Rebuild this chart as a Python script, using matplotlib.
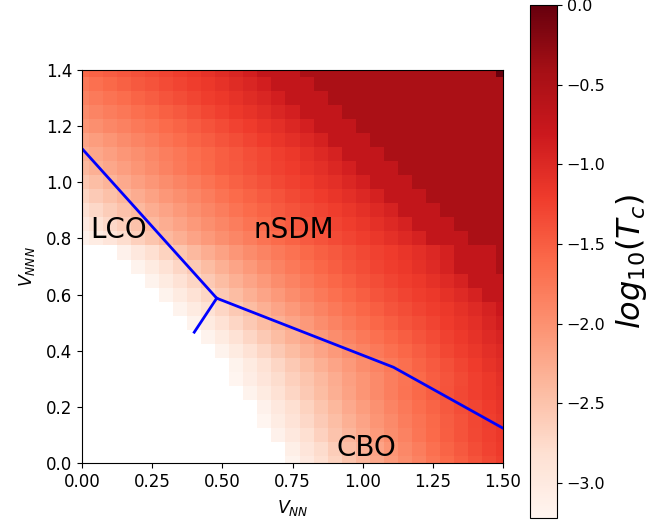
import numpy as np
import matplotlib
matplotlib.use('Agg')
import matplotlib.pyplot as plt

# grid of the phase diagram
vnn = np.linspace(0.0, 1.5, 31)
vnnn = np.linspace(0.0, 1.4, 29)

# log10(Tc) per row (VNNN = 0.00, 0.05, ...); only the coloured cells,
# cells to the left of each row are Tc = 0 (blank)
r00 = [-3.18, -3.00, -2.83, -2.67, -2.52, -2.37, -2.23, -2.10, -1.97, -1.85, -1.73, -1.62, -1.52, -1.42, -1.33, -1.24]
r01 = [-3.10, -2.93, -2.77, -2.61, -2.46, -2.32, -2.18, -2.05, -1.92, -1.80, -1.68, -1.57, -1.47, -1.37, -1.28, -1.20]
r02 = [-3.15, -2.98, -2.82, -2.66, -2.51, -2.37, -2.23, -2.10, -1.97, -1.85, -1.73, -1.62, -1.52, -1.42, -1.33, -1.25, -1.18]
r03 = [-3.21, -3.05, -2.89, -2.74, -2.59, -2.45, -2.31, -2.18, -2.05, -1.93, -1.81, -1.70, -1.60, -1.50, -1.41, -1.32, -1.24, -1.16]
r04 = [-3.15, -2.98, -2.82, -2.67, -2.52, -2.38, -2.25, -2.12, -2.00, -1.88, -1.77, -1.66, -1.56, -1.47, -1.38, -1.30, -1.22, -1.14]
r05 = [-3.18, -3.02, -2.86, -2.71, -2.57, -2.43, -2.30, -2.17, -2.05, -1.93, -1.82, -1.71, -1.61, -1.51, -1.42, -1.33, -1.25, -1.17, -1.11]
r06 = [-3.21, -3.07, -2.93, -2.79, -2.65, -2.52, -2.39, -2.27, -2.15, -2.04, -1.93, -1.82, -1.72, -1.62, -1.52, -1.43, -1.34, -1.25, -1.17, -1.09]
r07 = [-3.18, -3.02, -2.86, -2.71, -2.57, -2.44, -2.31, -2.19, -2.08, -1.97, -1.87, -1.77, -1.67, -1.57, -1.48, -1.39, -1.30, -1.21, -1.13, -1.05]
r08 = [-3.18, -3.02, -2.86, -2.71, -2.57, -2.44, -2.31, -2.19, -2.08, -1.97, -1.87, -1.77, -1.68, -1.59, -1.50, -1.41, -1.32, -1.24, -1.16, -1.08, -1.01]
r09 = [-3.18, -3.02, -2.86, -2.71, -2.57, -2.44, -2.31, -2.19, -2.08, -1.97, -1.87, -1.77, -1.68, -1.59, -1.51, -1.43, -1.35, -1.27, -1.19, -1.11, -1.03, -0.95]
r10 = [-3.18, -3.02, -2.86, -2.71, -2.57, -2.44, -2.31, -2.19, -2.08, -1.97, -1.87, -1.77, -1.68, -1.59, -1.51, -1.43, -1.36, -1.29, -1.22, -1.15, -1.07, -0.98, -0.88]
r11 = [-3.18, -3.02, -2.86, -2.71, -2.57, -2.44, -2.31, -2.19, -2.08, -1.97, -1.87, -1.77, -1.68, -1.59, -1.51, -1.43, -1.36, -1.29, -1.23, -1.17, -1.10, -1.02, -0.93, -0.80]
r12 = [-3.18, -3.02, -2.86, -2.71, -2.57, -2.44, -2.31, -2.19, -2.08, -1.97, -1.87, -1.77, -1.68, -1.59, -1.51, -1.43, -1.36, -1.29, -1.23, -1.17, -1.10, -1.02, -0.93, -0.72, -0.72]
r13 = [-3.18, -3.02, -2.86, -2.71, -2.57, -2.44, -2.31, -2.19, -2.08, -1.97, -1.87, -1.77, -1.68, -1.59, -1.51, -1.43, -1.36, -1.29, -1.23, -1.17, -1.10, -1.02, -0.93, -0.72, -0.72, -0.72]
r14 = [-3.18, -3.02, -2.86, -2.71, -2.57, -2.44, -2.31, -2.19, -2.08, -1.97, -1.87, -1.77, -1.68, -1.59, -1.51, -1.43, -1.36, -1.29, -1.23, -1.17, -1.10, -1.02, -0.93, -0.72, -0.72, -0.72, -0.47]
r15 = [-3.15, -2.98, -2.82, -2.67, -2.53, -2.40, -2.28, -2.17, -2.06, -1.96, -1.87, -1.78, -1.69, -1.61, -1.53, -1.46, -1.39, -1.33, -1.27, -1.21, -1.15, -1.08, -1.00, -0.91, -0.72, -0.72, -0.72, -0.47]
r16 = [-3.15, -3.05, -2.93, -2.78, -2.65, -2.52, -2.40, -2.29, -2.18, -2.08, -1.98, -1.89, -1.80, -1.71, -1.63, -1.55, -1.48, -1.41, -1.35, -1.29, -1.23, -1.16, -1.09, -1.01, -0.92] + [-0.72] * 3 + [-0.47] * 3
r17 = [-3.00, -2.87, -2.74, -2.62, -2.50, -2.39, -2.28, -2.18, -2.08, -1.98, -1.89, -1.80, -1.71, -1.63, -1.55, -1.48, -1.41, -1.35, -1.29, -1.23, -1.16, -1.09, -1.01, -0.92] + [-0.72] * 3 + [-0.47] * 4
r18 = [-2.85, -2.73, -2.61, -2.50, -2.39, -2.28, -2.18, -2.08, -1.98, -1.89, -1.80, -1.71, -1.63, -1.55, -1.48, -1.41, -1.35, -1.29, -1.23, -1.16, -1.09, -1.01, -0.92] + [-0.72] * 3 + [-0.47] * 5
r19 = [-2.70, -2.59, -2.48, -2.37, -2.27, -2.17, -2.07, -1.98, -1.89, -1.80, -1.71, -1.63, -1.55, -1.48, -1.41, -1.34, -1.28, -1.22, -1.15, -1.08, -1.00, -0.91] + [-0.72] * 3 + [-0.47] * 6
r20 = [-2.55, -2.45, -2.35, -2.25, -2.15, -2.06, -1.97, -1.88, -1.79, -1.70, -1.62, -1.54, -1.47, -1.40, -1.33, -1.27, -1.21, -1.14, -1.07, -0.99, -0.90] + [-0.72] * 3 + [-0.47] * 7
r21 = [-2.40, -2.31, -2.22, -2.13, -2.04, -1.95, -1.86, -1.77, -1.68, -1.60, -1.52, -1.46, -1.40, -1.33, -1.27, -1.21, -1.14, -1.07, -0.99, -0.90] + [-0.72] * 3 + [-0.47] * 8
r22 = [-2.30, -2.22, -2.14, -2.06, -1.98, -1.90, -1.82, -1.74, -1.66, -1.59, -1.52, -1.45, -1.38, -1.31, -1.24, -1.17, -1.09, -1.01, -0.92] + [-0.72] * 3 + [-0.47] * 9
r23 = [-2.20, -2.12, -2.04, -1.96, -1.88, -1.80, -1.72, -1.64, -1.57, -1.50, -1.43, -1.36, -1.29, -1.22, -1.15, -1.08, -1.00, -0.91] + [-0.72] * 3 + [-0.47] * 10
r24 = [-2.05, -1.98, -1.91, -1.84, -1.77, -1.70, -1.63, -1.56, -1.49, -1.42, -1.35, -1.28, -1.21, -1.14, -1.07, -0.99, -0.90] + [-0.72] * 3 + [-0.47] * 11
r25 = [-1.95, -1.88, -1.81, -1.74, -1.67, -1.60, -1.53, -1.46, -1.39, -1.32, -1.25, -1.18, -1.12, -1.05, -0.98, -0.90] + [-0.72] * 3 + [-0.47] * 12
r26 = [-1.85, -1.78, -1.71, -1.64, -1.57, -1.50, -1.43, -1.36, -1.30, -1.23, -1.17, -1.11, -1.04, -0.97, -0.89] + [-0.72] * 3 + [-0.47] * 13
r27 = [-1.75, -1.68, -1.61, -1.54, -1.47, -1.41, -1.35, -1.29, -1.23, -1.17, -1.11, -1.04, -0.97, -0.89] + [-0.72] * 3 + [-0.47] * 14
r28 = [-1.60, -1.55, -1.50, -1.45, -1.40, -1.35, -1.29, -1.23, -1.17, -1.11, -1.04, -0.97, -0.89] + [-0.72] * 3 + [-0.47] * 14 + [-0.02]

rows = [r00, r01, r02, r03, r04, r05, r06, r07, r08, r09, r10, r11, r12, r13, r14,
        r15, r16, r17, r18, r19, r20, r21, r22, r23, r24, r25, r26, r27, r28]

# phase boundaries
b1_x = [0.0, 0.48]
b1_y = [1.12, 0.587]
b2_x = [0.48, 0.40]
b2_y = [0.587, 0.466]
b3_x = [0.48, 1.11, 1.5]
b3_y = [0.587, 0.341, 0.124]

# pad each row with blanks on the left
grid = np.array([[np.nan] * (len(vnn) - len(r)) + list(r) for r in rows])

fig = plt.figure(figsize=(6.49, 5.31), dpi=100)
ax = fig.add_axes([82 / 649, 68 / 531, 421 / 649, 393 / 531])
cax = fig.add_axes([530 / 649, 13 / 531, 27 / 649, 513 / 531])

dx = vnn[1] - vnn[0]
dy = vnnn[1] - vnnn[0]
im = ax.imshow(grid, origin='lower', cmap='Reds', vmin=-3.22, vmax=0.0,
               extent=[vnn[0] - dx / 2, vnn[-1] + dx / 2, vnnn[0] - dy / 2, vnnn[-1] + dy / 2],
               interpolation='nearest', aspect='auto')
ax.set_xlim(0, 1.5)
ax.set_ylim(0, 1.4)

ax.plot(b1_x, b1_y, color='blue', lw=2)
ax.plot(b2_x, b2_y, color='blue', lw=2)
ax.plot(b3_x, b3_y, color='blue', lw=2)

ax.text(0.028, 0.80, 'LCO', fontsize=20)
ax.text(0.61, 0.80, 'nSDM', fontsize=20)
ax.text(0.905, 0.025, 'CBO', fontsize=20)

ax.set_xticks([0, 0.25, 0.5, 0.75, 1.0, 1.25, 1.5])
ax.set_xlabel('$V_{NN}$', fontsize=12.5, labelpad=5)
ax.set_ylabel('$V_{NNN}$', fontsize=12.5, labelpad=6)
ax.tick_params(labelsize=12)

cb = fig.colorbar(im, cax=cax)
cb.set_ticks([0.0, -0.5, -1.0, -1.5, -2.0, -2.5, -3.0])
cb.ax.tick_params(labelsize=11.5)
cb.set_label('$log_{10}(T_c)$', fontsize=23, labelpad=6)

fig.savefig('out.png', dpi=100)
